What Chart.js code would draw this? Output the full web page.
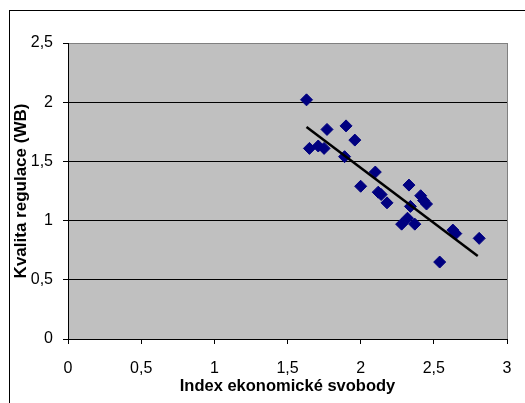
<!DOCTYPE html>
<html>
<head>
<meta charset="utf-8">
<script src="https://cdn.jsdelivr.net/npm/chart.js@4.4.1/dist/chart.umd.min.js"></script>
<style>
  html, body { margin: 0; padding: 0; background: #fff; }
  #wrap { position: relative; width: 525px; height: 403px; }
</style>
</head>
<body>
<div id="wrap"><canvas id="scatterChart" width="525" height="403"></canvas></div>
<script>
// hodnoty
const indexSvobody = [1.63, 1.65, 1.71, 1.75, 1.77, 1.90, 1.89, 1.96, 2.00, 2.10, 2.12, 2.14, 2.18,
                      2.33, 2.34, 2.28, 2.32, 2.37, 2.41, 2.43, 2.45, 2.54, 2.63, 2.65, 2.81];
const kvalitaRegulace = [2.02, 1.61, 1.63, 1.61, 1.77, 1.80, 1.54, 1.68, 1.29, 1.41, 1.24, 1.22, 1.15,
                         1.30, 1.12, 0.97, 1.02, 0.97, 1.21, 1.17, 1.14, 0.65, 0.92, 0.89, 0.85];
const trendX = [1.63, 2.80];
const trendY = [1.79, 0.70];
const xTicks = [0, 0.5, 1, 1.5, 2, 2.5, 3];
const yTicks = [0, 0.5, 1, 1.5, 2, 2.5];

function carka(v) {
    return String(v).replace('.', ',');
}

const points = indexSvobody.map(function(x, i) { return {x: x, y: kvalitaRegulace[i]}; });
const trend = trendX.map(function(x, i) { return {x: x, y: trendY[i]}; });

// pozadí grafu a rámeček
const ramecek = {
    id: 'ramecek',
    beforeDraw: function(chart) {
        const a = chart.chartArea;
        const ctx = chart.ctx;
        ctx.save();
        ctx.fillStyle = '#fff';
        ctx.fillRect(0, 0, chart.width, chart.height);
        ctx.strokeStyle = '#000';
        ctx.lineWidth = 1;
        ctx.strokeRect(9.5, 10.5, 1000, 1000);
        ctx.fillStyle = '#c0c0c0';
        ctx.fillRect(a.left, a.top, a.right - a.left, a.bottom - a.top);
        ctx.restore();
    },
    beforeDatasetsDraw: function(chart) {
        const a = chart.chartArea;
        const ctx = chart.ctx;
        ctx.save();
        ctx.strokeStyle = '#808080';
        ctx.lineWidth = 1;
        ctx.beginPath();
        ctx.moveTo(Math.round(a.right) + 0.5, a.top);
        ctx.lineTo(Math.round(a.right) + 0.5, a.bottom);
        ctx.stroke();
        ctx.restore();
    }
};

const ctx = document.getElementById('scatterChart').getContext('2d');
const chart = new Chart(ctx, {
    type: 'scatter',
    data: {
        datasets: [{
            data: trend,
            showLine: true,
            borderColor: '#000',
            borderWidth: 2.5,
            pointRadius: 0,
            fill: false
        }, {
            data: points,
            pointStyle: 'rectRot',
            pointRadius: 6,
            pointBackgroundColor: '#000080',
            pointBorderColor: '#000080',
            pointBorderWidth: 1
        }]
    },
    options: {
        responsive: false,
        devicePixelRatio: 1,
        animation: false,
        layout: {
            padding: {top: 43, right: 18, bottom: 0, left: 0}
        },
        plugins: {
            legend: {display: false},
            tooltip: {enabled: false}
        },
        scales: {
            x: {
                type: 'linear',
                min: 0,
                max: 3,
                afterBuildTicks: function(scale) {
                    scale.ticks = xTicks.map(function(v) { return {value: v}; });
                },
                afterFit: function(scale) {
                    scale.height = 64;
                    scale.paddingLeft = 0;
                    scale.paddingRight = 0;
                },
                border: {color: '#000', width: 1},
                grid: {drawOnChartArea: false, drawTicks: true, tickLength: 5, tickColor: '#000'},
                ticks: {
                    color: '#000',
                    padding: 15,
                    maxRotation: 0,
                    font: {family: 'Liberation Sans, Arial, sans-serif', size: 16},
                    callback: function(v) { return carka(v); }
                },
                title: {
                    display: true,
                    text: 'Index ekonomické svobody',
                    color: '#000',
                    padding: {top: 0, bottom: 7},
                    font: {family: 'Liberation Sans, Arial, sans-serif', size: 16.5, weight: 'bold'}
                }
            },
            y: {
                type: 'linear',
                min: 0,
                max: 2.5,
                afterBuildTicks: function(scale) {
                    scale.ticks = yTicks.map(function(v) { return {value: v}; });
                },
                afterFit: function(scale) { scale.width = 68; },
                border: {color: '#000', width: 1},
                grid: {
                    drawTicks: true,
                    tickLength: 5,
                    tickColor: '#000',
                    color: function(c) { return c.tick && c.tick.value === 2.5 ? '#808080' : '#000'; },
                    lineWidth: 1
                },
                ticks: {
                    color: '#000',
                    padding: 10,
                    font: {family: 'Liberation Sans, Arial, sans-serif', size: 16},
                    callback: function(v) { return carka(v); }
                },
                title: {
                    display: true,
                    text: 'Kvalita regulace (WB)',
                    color: '#000',
                    padding: {top: 11, bottom: 0},
                    font: {family: 'Liberation Sans, Arial, sans-serif', size: 17, weight: 'bold'}
                }
            }
        }
    },
    plugins: [ramecek]
});
</script>
</body>
</html>
